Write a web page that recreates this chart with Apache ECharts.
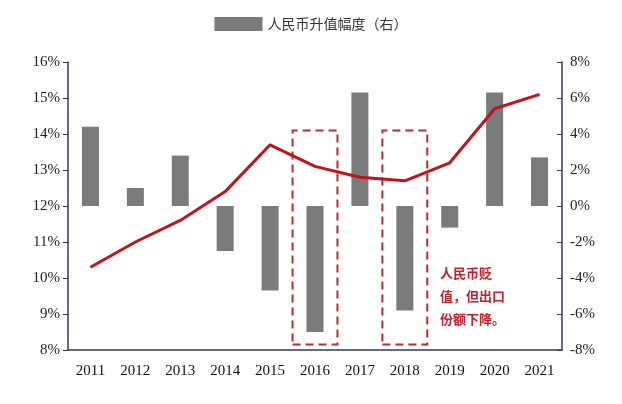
<!DOCTYPE html><html><head><meta charset="utf-8"><script src="https://cdn.jsdelivr.net/npm/echarts@6/dist/echarts.min.js"></script></head><body style="margin:0;background:#fff"><div id="c" style="width:622px;height:404px"></div><script>
const years=['2011','2012','2013','2014','2015','2016','2017','2018','2019','2020','2021'];
const appreciation=[4.4,1.0,2.8,-2.5,-4.7,-7.0,6.3,-5.8,-1.2,6.3,2.7];
const share=[10.3,11.0,11.6,12.4,13.7,13.1,12.8,12.7,13.2,14.7,15.1];
const c=echarts.init(document.getElementById('c'));
const axisCol='#3a3560';
c.setOption({
 animation:false,
 legend:{top:12,left:'center',data:[{name:'人民币升值幅度（右）',icon:'rect'}],itemWidth:48,itemHeight:14,
  textStyle:{fontFamily:'Noto Sans CJK SC',fontSize:14,color:'#333'}},
 grid:{left:68,right:60,top:62,bottom:54},
 xAxis:{type:'category',data:years,boundaryGap:true,
  axisLine:{onZero:false,lineStyle:{color:axisCol,width:1.5}},axisTick:{show:false},
  axisLabel:{fontFamily:'Liberation Serif',fontSize:15,color:'#111',margin:14}},
 yAxis:[
  {type:'value',min:8,max:16,interval:1,splitLine:{show:false},
   axisLine:{show:true,lineStyle:{color:axisCol,width:1.5}},
   axisTick:{show:true,inside:false,lineStyle:{color:axisCol}},
   axisLabel:{formatter:'{value}%',fontFamily:'Liberation Serif',fontSize:15,color:'#222'}},
  {type:'value',min:-8,max:8,interval:2,splitLine:{show:false},position:'right',
   axisLine:{show:true,lineStyle:{color:axisCol,width:1.5}},
   axisTick:{show:true,inside:true,lineStyle:{color:axisCol}},
   axisLabel:{formatter:'{value}%',fontFamily:'Liberation Serif',fontSize:15,color:'#222'}}
 ],
 series:[
  {name:'人民币升值幅度（右）',type:'bar',yAxisIndex:1,data:appreciation,barWidth:17,
   itemStyle:{color:'#7b7b7b'},
   markArea:{silent:true,itemStyle:{color:'rgba(0,0,0,0)',borderColor:'#c0282c',borderWidth:2,borderType:[8,5]},
    data:[[{xAxis:'2016',yAxis:4.2},{xAxis:'2016',yAxis:-7.7}],[{xAxis:'2018',yAxis:4.2},{xAxis:'2018',yAxis:-7.7}]]}},
  {name:'share',type:'line',yAxisIndex:0,data:share,symbol:'none',
   lineStyle:{color:'#c0141c',width:3}}
 ],
 graphic:[{type:'text',left:440,top:262,style:{text:'人民币贬\n值，但出口\n份额下降。',fill:'#c8202a',
  font:'bold 13px "Noto Sans CJK SC"',lineHeight:23}}]
});
</script></body></html>
